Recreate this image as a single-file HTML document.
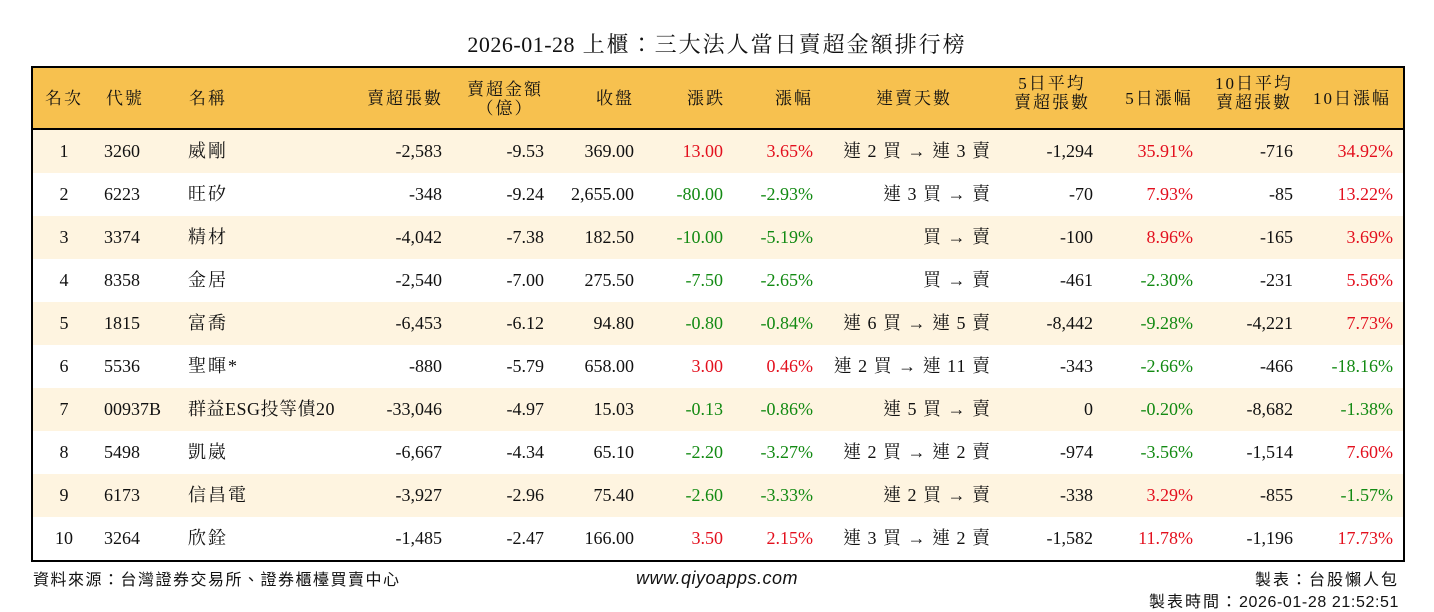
<!DOCTYPE html>
<html><head><meta charset="utf-8"><style>
body{margin:0;width:1434px;height:612px;background:#fff;position:relative;overflow:hidden;font-family:"Liberation Serif","Noto Serif CJK TC","Noto Serif CJK SC",serif;color:#111}
.title{position:absolute;top:28px;left:0;width:1434px;text-align:center;font-size:22px;letter-spacing:2px}
.tbl{position:absolute;left:31px;top:66px;width:1370px;height:492px;border:2px solid #000}
.hd{position:absolute;left:0;top:0;width:1370px;height:60px;background:#F7C14F;border-bottom:3px solid #000}
.row{position:absolute;left:0;width:1370px;height:43px}
.row.o{background:#FEF4E0}
.c{position:absolute;top:0;line-height:43px;font-size:18px;white-space:nowrap}
.c3{letter-spacing:2px}
.h{position:absolute;font-size:17px;letter-spacing:2px;line-height:19px;text-align:center;white-space:nowrap;transform:translateX(-50%)}
.r{color:#E3101E}.g{color:#138A13}
.c1{left:11px;width:40px;text-align:center}
.c2{left:71px}.c3{left:155px}
.c4{right:961px}.c5{right:859px}.c6{right:769px}.c7{right:680px}.c8{right:590px}
.c9{right:412px;letter-spacing:1px}.c10{right:310px}.c11{right:210px}.c12{right:110px}.c13{right:10px}
.foot{position:absolute;font-family:"Liberation Sans","Noto Sans CJK TC",sans-serif;font-size:16px;letter-spacing:2px}
.d{letter-spacing:0.6px}
</style></head><body>
<div class="title"><span style="letter-spacing:0.5px">2026-01-28</span> 上櫃：三大法人當日賣超金額排行榜</div>
<div class="tbl">
<div class="hd">
<div class="h" style="left:31px;top:21px">名次</div>
<div class="h" style="left:92px;top:21px">代號</div>
<div class="h" style="left:175px;top:21px">名稱</div>
<div class="h" style="left:372px;top:21px">賣超張數</div>
<div class="h" style="left:472px;top:12px">賣超金額<br>（億）</div>
<div class="h" style="left:582px;top:21px">收盤</div>
<div class="h" style="left:673px;top:21px">漲跌</div>
<div class="h" style="left:761px;top:21px">漲幅</div>
<div class="h" style="left:881px;top:21px">連賣天數</div>
<div class="h" style="left:1019px;top:6px">5日平均<br>賣超張數</div>
<div class="h" style="left:1126px;top:21px">5日漲幅</div>
<div class="h" style="left:1221px;top:6px">10日平均<br>賣超張數</div>
<div class="h" style="left:1319px;top:21px">10日漲幅</div>
</div>
<div class="row o" style="top:62px"><span class="c c1">1</span><span class="c c2">3260</span><span class="c c3">威剛</span><span class="c c4">-2,583</span><span class="c c5">-9.53</span><span class="c c6">369.00</span><span class="c c7 r">13.00</span><span class="c c8 r">3.65%</span><span class="c c9">連 2 買 → 連 3 賣</span><span class="c c10">-1,294</span><span class="c c11 r">35.91%</span><span class="c c12">-716</span><span class="c c13 r">34.92%</span></div>
<div class="row" style="top:105px"><span class="c c1">2</span><span class="c c2">6223</span><span class="c c3">旺矽</span><span class="c c4">-348</span><span class="c c5">-9.24</span><span class="c c6">2,655.00</span><span class="c c7 g">-80.00</span><span class="c c8 g">-2.93%</span><span class="c c9">連 3 買 → 賣</span><span class="c c10">-70</span><span class="c c11 r">7.93%</span><span class="c c12">-85</span><span class="c c13 r">13.22%</span></div>
<div class="row o" style="top:148px"><span class="c c1">3</span><span class="c c2">3374</span><span class="c c3">精材</span><span class="c c4">-4,042</span><span class="c c5">-7.38</span><span class="c c6">182.50</span><span class="c c7 g">-10.00</span><span class="c c8 g">-5.19%</span><span class="c c9">買 → 賣</span><span class="c c10">-100</span><span class="c c11 r">8.96%</span><span class="c c12">-165</span><span class="c c13 r">3.69%</span></div>
<div class="row" style="top:191px"><span class="c c1">4</span><span class="c c2">8358</span><span class="c c3">金居</span><span class="c c4">-2,540</span><span class="c c5">-7.00</span><span class="c c6">275.50</span><span class="c c7 g">-7.50</span><span class="c c8 g">-2.65%</span><span class="c c9">買 → 賣</span><span class="c c10">-461</span><span class="c c11 g">-2.30%</span><span class="c c12">-231</span><span class="c c13 r">5.56%</span></div>
<div class="row o" style="top:234px"><span class="c c1">5</span><span class="c c2">1815</span><span class="c c3">富喬</span><span class="c c4">-6,453</span><span class="c c5">-6.12</span><span class="c c6">94.80</span><span class="c c7 g">-0.80</span><span class="c c8 g">-0.84%</span><span class="c c9">連 6 買 → 連 5 賣</span><span class="c c10">-8,442</span><span class="c c11 g">-9.28%</span><span class="c c12">-4,221</span><span class="c c13 r">7.73%</span></div>
<div class="row" style="top:277px"><span class="c c1">6</span><span class="c c2">5536</span><span class="c c3">聖暉*</span><span class="c c4">-880</span><span class="c c5">-5.79</span><span class="c c6">658.00</span><span class="c c7 r">3.00</span><span class="c c8 r">0.46%</span><span class="c c9">連 2 買 → 連 11 賣</span><span class="c c10">-343</span><span class="c c11 g">-2.66%</span><span class="c c12">-466</span><span class="c c13 g">-18.16%</span></div>
<div class="row o" style="top:320px"><span class="c c1">7</span><span class="c c2">00937B</span><span class="c c3" style="letter-spacing:0.5px">群益ESG投等債20</span><span class="c c4">-33,046</span><span class="c c5">-4.97</span><span class="c c6">15.03</span><span class="c c7 g">-0.13</span><span class="c c8 g">-0.86%</span><span class="c c9">連 5 買 → 賣</span><span class="c c10">0</span><span class="c c11 g">-0.20%</span><span class="c c12">-8,682</span><span class="c c13 g">-1.38%</span></div>
<div class="row" style="top:363px"><span class="c c1">8</span><span class="c c2">5498</span><span class="c c3">凱崴</span><span class="c c4">-6,667</span><span class="c c5">-4.34</span><span class="c c6">65.10</span><span class="c c7 g">-2.20</span><span class="c c8 g">-3.27%</span><span class="c c9">連 2 買 → 連 2 賣</span><span class="c c10">-974</span><span class="c c11 g">-3.56%</span><span class="c c12">-1,514</span><span class="c c13 r">7.60%</span></div>
<div class="row o" style="top:406px"><span class="c c1">9</span><span class="c c2">6173</span><span class="c c3">信昌電</span><span class="c c4">-3,927</span><span class="c c5">-2.96</span><span class="c c6">75.40</span><span class="c c7 g">-2.60</span><span class="c c8 g">-3.33%</span><span class="c c9">連 2 買 → 賣</span><span class="c c10">-338</span><span class="c c11 r">3.29%</span><span class="c c12">-855</span><span class="c c13 g">-1.57%</span></div>
<div class="row" style="top:449px"><span class="c c1">10</span><span class="c c2">3264</span><span class="c c3">欣銓</span><span class="c c4">-1,485</span><span class="c c5">-2.47</span><span class="c c6">166.00</span><span class="c c7 r">3.50</span><span class="c c8 r">2.15%</span><span class="c c9">連 3 買 → 連 2 賣</span><span class="c c10">-1,582</span><span class="c c11 r">11.78%</span><span class="c c12">-1,196</span><span class="c c13 r">17.73%</span></div>
</div>
<div class="foot" style="left:33px;top:566px;letter-spacing:1.5px">資料來源：台灣證券交易所、證券櫃檯買賣中心</div>
<div class="foot" style="left:0;width:1434px;text-align:center;top:568px;font-size:18px;font-style:italic;letter-spacing:0.5px">www.qiyoapps.com</div>
<div class="foot" style="right:35px;top:566px">製表：台股懶人包</div>
<div class="foot" style="right:35px;top:588px">製表時間：<span class="d">2026-01-28 21:52:51</span></div>
</body></html>
